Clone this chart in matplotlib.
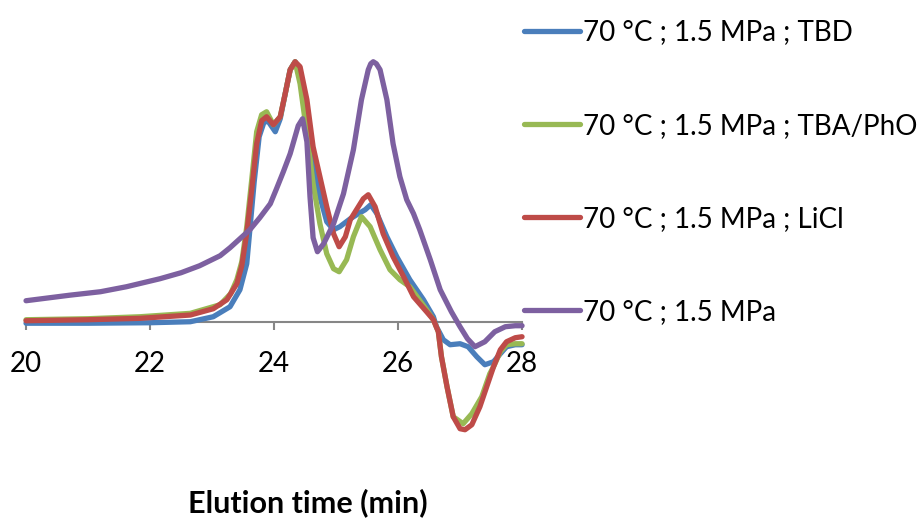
import matplotlib
matplotlib.use("Agg")
import matplotlib.pyplot as plt

plt.rcParams['font.family'] = ['Lato', 'DejaVu Sans']

# elution time (min) / detector signal (arbitrary units)
tbd_x = [20.0, 21.0, 22.0, 22.65, 23.02, 23.29, 23.45, 23.56, 23.61, 23.68, 23.76, 23.84,
         23.91, 24.02, 24.10, 24.18, 24.26, 24.34, 24.42, 24.53, 24.63, 24.74, 24.85, 24.96,
         25.06, 25.23, 25.36, 25.47, 25.56, 25.66, 25.82, 25.98, 26.19, 26.41, 26.57, 26.62,
         26.73, 26.84, 27.0, 27.13, 27.27, 27.40, 27.54, 27.65, 27.75, 27.89, 28.0]
tbd_y = [-1.5, -1.5, -1, 0, 5, 15, 32, 58, 92, 140, 185, 200,
         200, 190, 203, 228, 252, 260, 252, 205, 155, 125, 100, 92,
         95, 103, 108, 112, 117, 108, 85, 65, 42, 22, 5, -5,
         -18, -23, -22, -25, -35, -43, -40, -32, -25, -23, -23]

tba_x = [20.0, 21.0, 21.84, 22.65, 23.13, 23.30, 23.40, 23.48, 23.56, 23.64, 23.72, 23.80,
         23.88, 23.99, 24.10, 24.18, 24.26, 24.34, 24.42, 24.53, 24.63, 24.74, 24.85, 24.96,
         25.05, 25.17, 25.28, 25.41, 25.55, 25.71, 25.87, 26.03, 26.19, 26.46, 26.57, 26.65,
         26.70, 26.79, 26.89, 27.05, 27.19, 27.35, 27.48, 27.54, 27.65, 27.75, 27.89, 28.0]
tba_y = [2, 3, 5, 8.4, 17, 28, 42, 60, 95, 142, 190, 207,
         210, 197, 205, 228, 252, 260, 238, 188, 138, 98, 68, 53,
         50, 62, 85, 105, 95, 72, 52, 42, 35, 12, 2, -10,
         -35, -65, -95, -102, -92, -75, -52, -45, -30, -23, -22, -22]

licl_x = [20.0, 21.0, 21.84, 22.65, 23.02, 23.24, 23.40, 23.48, 23.56, 23.64, 23.72, 23.80,
          23.88, 23.99, 24.10, 24.18, 24.26, 24.34, 24.42, 24.53, 24.63, 24.74, 24.85, 24.96,
          25.05, 25.15, 25.23, 25.33, 25.44, 25.52, 25.63, 25.76, 25.92, 26.09, 26.25, 26.46,
          26.57, 26.65, 26.70, 26.79, 26.89, 27.0, 27.08, 27.19, 27.32, 27.43, 27.54, 27.65,
          27.75, 27.89, 28.0]
licl_y = [1, 2, 3.4, 6.7, 13, 22, 38, 56, 89, 132, 178, 201,
          205, 197, 205, 228, 252, 260, 255, 222, 175, 145, 115, 88,
          75, 85, 102, 112, 123, 127, 115, 88, 65, 45, 25, 10,
          2, -10, -35, -65, -95, -107, -108, -103, -85, -65, -45, -28,
          -20, -16, -15]

ref_x = [20.0, 20.7, 21.2, 21.62, 22.16, 22.5, 22.8, 23.13, 23.29, 23.45, 23.61, 23.77,
         23.94, 24.04, 24.15, 24.26, 24.39, 24.46, 24.53, 24.58, 24.63, 24.70, 24.80, 24.96,
         25.12, 25.28, 25.41, 25.52, 25.56, 25.60, 25.65, 25.71, 25.82, 25.92, 26.03, 26.14,
         26.25, 26.35, 26.52, 26.68, 26.86, 27.0, 27.12, 27.24, 27.40, 27.56, 27.73, 27.89,
         28.0]
ref_y = [21, 26.5, 30, 35, 43, 49, 56, 66, 74, 83, 92, 104,
         118, 133, 150, 168, 196, 203, 180, 125, 84, 70, 78, 98,
         128, 172, 222, 252, 258, 260, 258, 252, 222, 178, 145, 122,
         108, 92, 62, 32, 10, -5, -17, -25, -20, -10, -5, -4,
         -4]

series = [
    (tbd_x, tbd_y, '#4a7ebb', '70 °C ; 1.5 MPa ; TBD'),
    (tba_x, tba_y, '#98b954', '70 °C ; 1.5 MPa ; TBA/PhO'),
    (licl_x, licl_y, '#be4b48', '70 °C ; 1.5 MPa ; LiCl'),
    (ref_x, ref_y, '#7d60a0', '70 °C ; 1.5 MPa'),
]
x_ticks = [20, 22, 24, 26, 28]

fig = plt.figure(figsize=(9.23, 5.19), dpi=100)
ax = fig.add_axes([0.0282, 0.1489, 0.5374, 0.7514])

for xs, ys, col, lab in series:
    ax.plot(xs, ys, color=col, linewidth=3.8, label=lab, clip_on=False,
            solid_joinstyle='round', solid_capstyle='round')

ax.set_xlim(20, 28)
ax.set_ylim(-120, 270)
ax.set_xticks(x_ticks)
ax.set_yticks([])

for s in ['top', 'right', 'left']:
    ax.spines[s].set_visible(False)
ax.spines['bottom'].set_position(('data', 0))
ax.spines['bottom'].set_color('#868686')
ax.spines['bottom'].set_linewidth(1.5)
ax.spines['bottom'].set_zorder(0)
ax.tick_params(axis='x', direction='out', length=6, width=1.5, color='#868686',
               labelsize=20, pad=15)

fig.legend(loc='upper left', bbox_to_anchor=(0.547, 1.0), frameon=False,
           fontsize=20, handlelength=2.0, handletextpad=0.12, labelspacing=2.42,
           borderaxespad=0.3)

fig.text(308 / 923, 1 - 503 / 519, 'Elution time (min)', ha='center', va='center',
         fontsize=22, fontweight='bold')

fig.savefig('out.png', dpi=100)
